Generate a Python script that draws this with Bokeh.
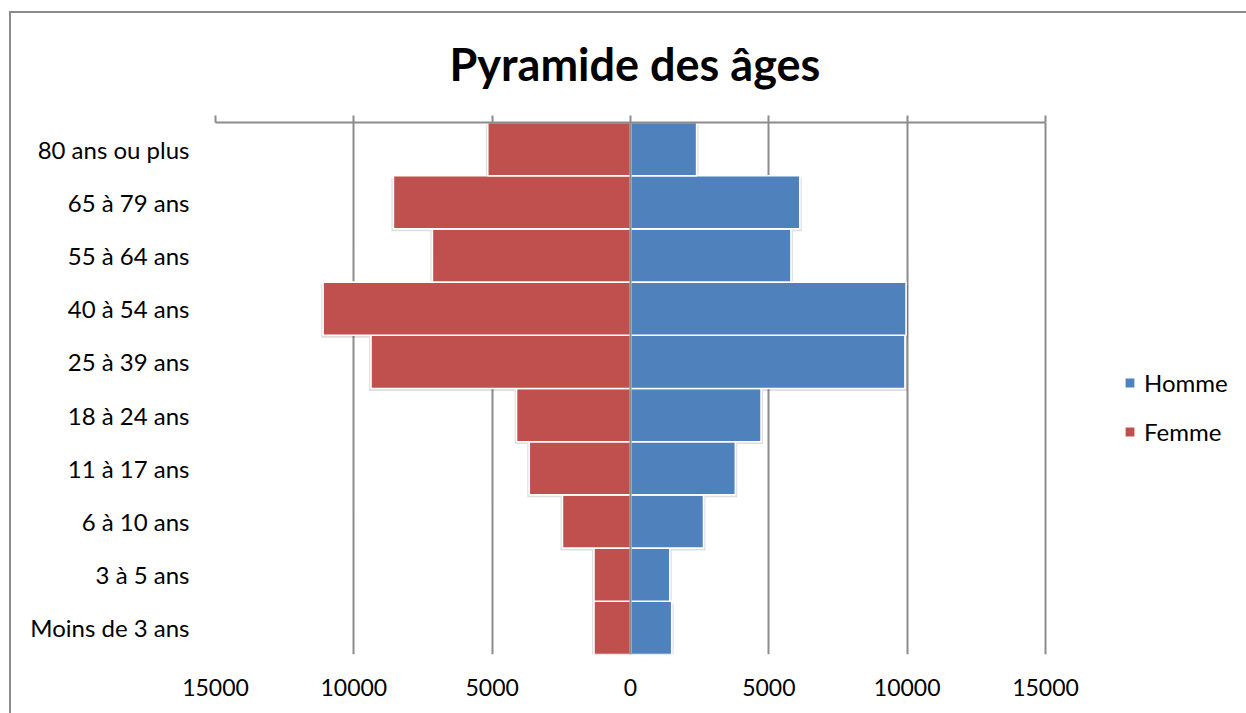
from bokeh.plotting import figure
from bokeh.models import (FactorRange, Range1d, FixedTicker, LinearAxis, Legend,
                          LegendItem, Span, Grid, ColumnDataSource, InlineStyleSheet)
from bokeh.transform import dodge
from bokeh.embed import file_html
from bokeh.resources import INLINE

ages = ["Moins de 3 ans", "3 à 5 ans", "6 à 10 ans", "11 à 17 ans", "18 à 24 ans",
        "25 à 39 ans", "40 à 54 ans", "55 à 64 ans", "65 à 79 ans", "80 ans ou plus"]
homme = [1490, 1420, 2640, 3790, 4720, 9920, 9960, 5800, 6120, 2390]
femme = [1320, 1320, 2460, 3660, 4120, 9380, 11110, 7160, 8570, 5160]
x_ticks = [-15000, -10000, -5000, 0, 5000, 10000, 15000]
x_labels = ["15000", "10000", "5000", "0", "5000", "10000", "15000"]

BLUE = "#4F81BD"
RED = "#C0504D"
GRID = "#8c8c8c"
FONT = "Lato"

# layout: axis spans 830 px for 30000 units; frame extends to the right to hold the legend
AXIS_PX = 830
FRAME_PX = 1025
x_end = x_ticks[0] + (x_ticks[-1] - x_ticks[0]) * FRAME_PX / AXIS_PX

src = ColumnDataSource(dict(age=ages, homme=homme, femme_neg=[-v for v in femme]))

p = figure(width=1246, height=713, output_backend="svg", toolbar_location=None,
           x_range=Range1d(x_ticks[0], x_end), y_range=FactorRange(*ages),
           x_axis_location=None, y_axis_location="left",
           min_border_left=215, min_border_right=6, min_border_top=122, min_border_bottom=59,
           title="Pyramide des âges")
p.outline_line_color = None
p.ygrid.grid_line_color = None
p.xgrid.grid_line_color = None

p.title.align = "left"
p.title.offset = 234
p.title.text_font = FONT
p.title.text_font_size = "45px"
p.title.text_font_style = "bold"
p.title.text_color = "black"
p.title.standoff = 49

ticker = FixedTicker(ticks=x_ticks)
p.add_layout(Grid(dimension=0, ticker=ticker, grid_line_color=GRID, grid_line_width=2))

top_axis = LinearAxis(ticker=ticker, bounds=(x_ticks[0], x_ticks[-1]),
                      axis_line_color=GRID, axis_line_width=2,
                      major_tick_line_color=GRID, major_tick_line_width=2,
                      major_tick_out=7, major_tick_in=0, minor_tick_line_color=None,
                      major_label_text_color=None, major_label_text_font_size="1px")
p.add_layout(top_axis, "above")

bottom_axis = LinearAxis(ticker=ticker, axis_line_color=None, major_tick_line_color=None,
                         minor_tick_line_color=None,
                         major_label_overrides={t: l for t, l in zip(x_ticks, x_labels)},
                         major_label_text_font=FONT, major_label_text_font_size="23px",
                         major_label_text_color="black", major_label_standoff=18)
p.add_layout(bottom_axis, "below")

p.yaxis.axis_line_color = None
p.yaxis.major_tick_line_color = None
p.yaxis.minor_tick_line_color = None
p.yaxis.major_label_text_font = FONT
p.yaxis.major_label_text_font_size = "24px"
p.yaxis.major_label_text_color = "black"
p.yaxis.major_label_standoff = 20

# soft shadows
p.hbar(y=dodge("age", -0.045, range=p.y_range), left=0, right=dodge("homme", 70),
       height=1.0, source=src, fill_color="black", fill_alpha=0.13, line_color=None)
p.hbar(y=dodge("age", -0.045, range=p.y_range), left=dodge("femme_neg", -70), right=0,
       height=1.0, source=src, fill_color="black", fill_alpha=0.13, line_color=None)

rh = p.hbar(y="age", left=0, right="homme", height=1.0, source=src,
            fill_color=BLUE, line_color="white", line_width=1.6)
rf = p.hbar(y="age", left="femme_neg", right=0, height=1.0, source=src,
            fill_color=RED, line_color="white", line_width=1.6)

p.add_layout(Span(location=0, dimension="height", line_color=GRID, line_width=2))

legend = Legend(items=[LegendItem(label="Homme", renderers=[rh]),
                       LegendItem(label="Femme", renderers=[rf])],
                location=(908, 208), orientation="vertical",
                label_text_font=FONT, label_text_font_size="24px", label_text_color="black",
                glyph_width=13, glyph_height=13, label_height=22, label_standoff=8,
                spacing=20, padding=0, margin=0,
                border_line_color=None, background_fill_alpha=0)
p.add_layout(legend, "center")

p.stylesheets = [InlineStyleSheet(css="""
:host { position: relative; }
:host::after { content: ''; position: absolute; left: 9px; top: 11px; right: 0; bottom: 0;
  border-left: 2px solid #8c8c8c; border-top: 2px solid #8c8c8c; pointer-events: none; z-index: 5; }
""")]

open("out.html", "w").write(file_html(p, INLINE))
